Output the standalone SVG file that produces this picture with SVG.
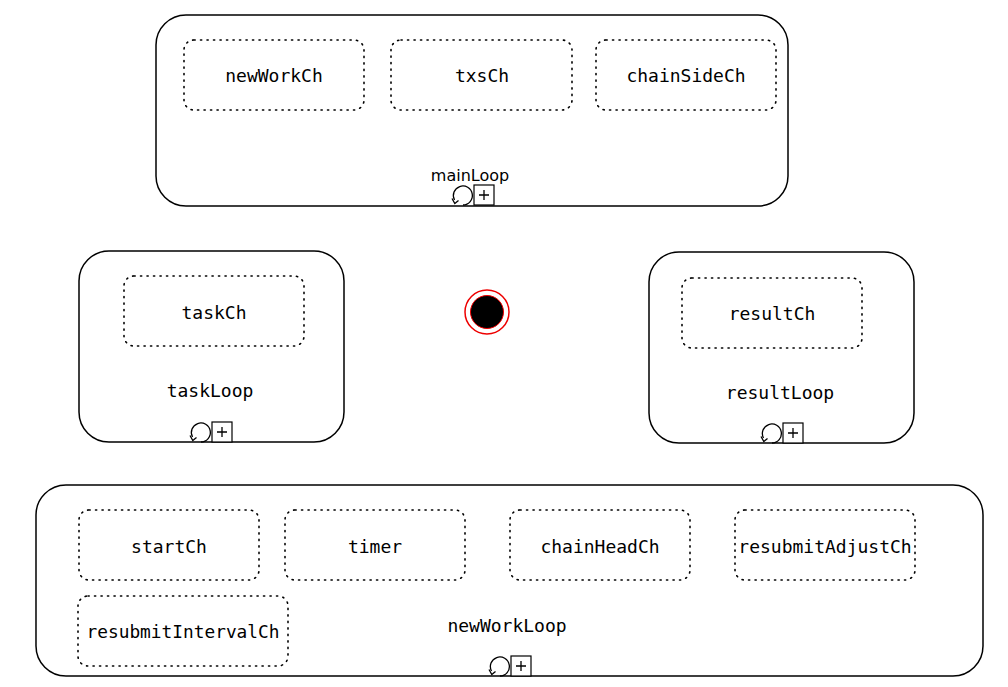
<svg xmlns="http://www.w3.org/2000/svg" width="1008" height="687" viewBox="0 0 1008 687">
  <style>
    .loop { fill: #fff; stroke: #000; stroke-width: 1.5; }
    .ch { fill: none; stroke: #000; stroke-width: 1.6; stroke-dasharray: 1.2 5.3; stroke-linecap: round; }
    .lbl { font-family: "DejaVu Sans Mono", monospace; font-size: 18px; fill: #000; text-anchor: middle; }
    .title { font-family: "DejaVu Sans", sans-serif; font-size: 16px; fill: #000; text-anchor: middle; }
    .marker-box { fill: #fff; stroke: #000; stroke-width: 1.2; }
    .marker-line { fill: none; stroke: #000; stroke-width: 1.3; }
  </style>
  <defs>
    <!-- loop marker: circular arrow plus expand box, origin at bottom-left of arrow -->
    <g id="loopMarker">
      <path class="marker-line" d="M11,0 A9.5,9.5 0 1 0 2.5,-5"/>
      <path class="marker-line" d="M0,-6.5 L2.8,-1.5 L6.5,-4.5"/>
      <rect class="marker-box" x="22" y="-20" width="20" height="20"/>
      <path class="marker-line" d="M32,-15 V-5 M27,-10 H37"/>
    </g>
  </defs>

  <rect width="1008" height="687" fill="#fff"/>

  <g id="mainLoop">
    <rect class="loop" x="156" y="15" width="632" height="191" rx="30"/>
    <text class="title" x="470" y="181">mainLoop</text>
    <use href="#loopMarker" x="452" y="205"/>
    <g id="newWorkCh">
      <rect class="ch" x="184" y="40" width="180" height="70" rx="10"/>
      <text class="lbl" x="274" y="82">newWorkCh</text>
    </g>
    <g id="txsCh">
      <rect class="ch" x="391" y="40" width="181" height="70" rx="10"/>
      <text class="lbl" x="482" y="82">txsCh</text>
    </g>
    <g id="chainSideCh">
      <rect class="ch" x="596" y="40" width="180" height="70" rx="10"/>
      <text class="lbl" x="686" y="82">chainSideCh</text>
    </g>
  </g>

  <g id="taskLoop">
    <rect class="loop" x="79" y="251" width="265" height="191" rx="30"/>
    <text class="lbl" x="210" y="397">taskLoop</text>
    <use href="#loopMarker" x="190" y="442"/>
    <g id="taskCh">
      <rect class="ch" x="124" y="276" width="180" height="70" rx="10"/>
      <text class="lbl" x="214" y="319">taskCh</text>
    </g>
  </g>

  <g id="endEvent">
    <circle cx="487" cy="312" r="22" fill="#fff" stroke="#e00" stroke-width="1.5"/>
    <circle cx="487" cy="312" r="16.5" fill="#000" stroke="#e00" stroke-width="1"/>
  </g>

  <g id="resultLoop">
    <rect class="loop" x="649" y="252" width="265" height="191" rx="30"/>
    <text class="lbl" x="780" y="399">resultLoop</text>
    <use href="#loopMarker" x="761" y="443"/>
    <g id="resultCh">
      <rect class="ch" x="682" y="278" width="180" height="70" rx="10"/>
      <text class="lbl" x="772" y="320">resultCh</text>
    </g>
  </g>

  <g id="newWorkLoop">
    <rect class="loop" x="36" y="485" width="947" height="191" rx="30"/>
    <text class="lbl" x="507" y="632">newWorkLoop</text>
    <use href="#loopMarker" x="489" y="676"/>
    <g id="startCh">
      <rect class="ch" x="79" y="510" width="180" height="70" rx="10"/>
      <text class="lbl" x="169" y="553">startCh</text>
    </g>
    <g id="timer">
      <rect class="ch" x="285" y="510" width="180" height="70" rx="10"/>
      <text class="lbl" x="375" y="553">timer</text>
    </g>
    <g id="chainHeadCh">
      <rect class="ch" x="510" y="510" width="180" height="70" rx="10"/>
      <text class="lbl" x="600" y="553">chainHeadCh</text>
    </g>
    <g id="resubmitAdjustCh">
      <rect class="ch" x="735" y="510" width="180" height="70" rx="10"/>
      <text class="lbl" x="825" y="553">resubmitAdjustCh</text>
    </g>
    <g id="resubmitIntervalCh">
      <rect class="ch" x="78" y="596" width="210" height="70" rx="10"/>
      <text class="lbl" x="183" y="638" textLength="193" lengthAdjust="spacingAndGlyphs">resubmitIntervalCh</text>
    </g>
  </g>

  <g id="connectors"/>
</svg>
